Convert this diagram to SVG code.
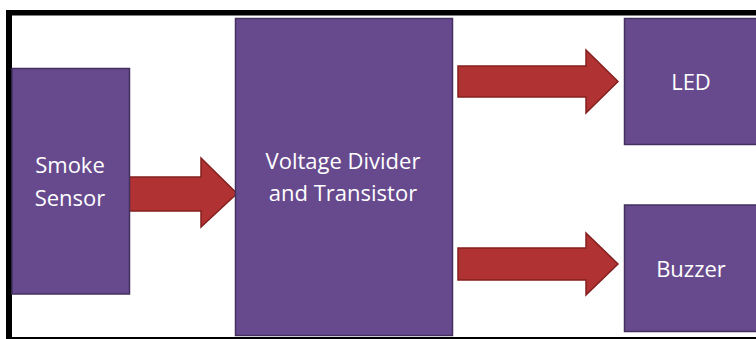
<svg xmlns="http://www.w3.org/2000/svg" width="756" height="339" viewBox="0 0 756 339">
<style>
.box{fill:#674A8D;stroke:#43305F;stroke-width:1.5}
.arrow{fill:#B03232;stroke:#84201F;stroke-width:1.5;stroke-linejoin:miter}
.lbl{fill:#FFFFFF;font-family:"Open Sans","Liberation Sans",sans-serif;font-size:22px;text-anchor:middle}
</style>
<rect x="0" y="0" width="756" height="339" fill="#FFFFFF"/>
<g id="frame">
<rect x="6" y="10" width="750" height="5.5" fill="#000000"/>
<rect x="6" y="10" width="6" height="329" fill="#000000"/>
<rect x="6" y="337" width="750" height="2" fill="#000000"/>
</g>
<g id="connectors">
<polygon class="arrow" points="128,177 201,177 201,158 237,193.5 201,227 201,211 128,211"/>
<polygon class="arrow" points="458,66 586,66 586,50 618,81.5 586,113 586,97 458,97"/>
<polygon class="arrow" points="458,248 586,248 586,233 618,264 586,295 586,280 458,280"/>
</g>
<g id="smoke-sensor">
<rect class="box" x="12" y="68.5" width="117.5" height="225.5"/>
<text class="lbl" x="70" y="173">Smoke</text>
<text class="lbl" x="70" y="206">Sensor</text>
</g>
<g id="voltage-divider">
<rect class="box" x="235.5" y="18.5" width="217" height="317"/>
<text class="lbl" x="343" y="169">Voltage Divider</text>
<text class="lbl" x="343" y="201">and Transistor</text>
</g>
<g id="led">
<rect class="box" x="624.5" y="18.5" width="140" height="126"/>
<text class="lbl" x="691" y="90">LED</text>
</g>
<g id="buzzer">
<rect class="box" x="624.5" y="205" width="140" height="126.5"/>
<text class="lbl" x="691" y="277">Buzzer</text>
</g>
</svg>
